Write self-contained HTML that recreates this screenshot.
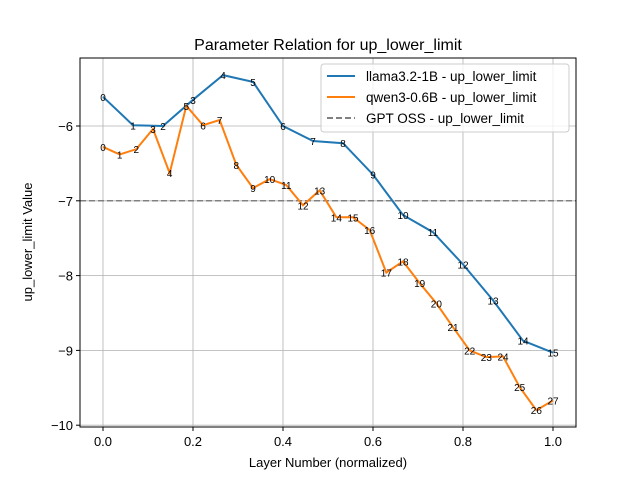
<!DOCTYPE html>
<html><head><meta charset="utf-8"><style>
body{margin:0;background:#fff}
svg{font-family:"Liberation Sans","DejaVu Sans",sans-serif}
</style></head><body>
<svg id="chart" width="640" height="480" xmlns="http://www.w3.org/2000/svg">
<rect width="640" height="480" fill="#fff"/>
<text x="328" y="50" text-anchor="middle" font-size="16">Parameter Relation for up_lower_limit</text>
<text x="328" y="467" text-anchor="middle" font-size="13">Layer Number (normalized)</text>
<text transform="translate(32,242) rotate(-90)" text-anchor="middle" font-size="13">up_lower_limit Value</text>
<g id="grid"></g><g id="series"></g>
<rect x="80" y="58" width="496" height="369" fill="none" stroke="#000" stroke-width="1"/>
<g id="ticks"></g>
<g>
<rect x="321" y="64" width="248" height="68" fill="#fff" fill-opacity="0.8" stroke="#ccc" rx="3"/>
<line x1="327" y1="76" x2="355" y2="76" stroke="#1f77b4" stroke-width="2"/>
<text x="366" y="81" font-size="13.5">llama3.2-1B - up_lower_limit</text>
<line x1="327" y1="97" x2="355" y2="97" stroke="#ff7f0e" stroke-width="2"/>
<text x="366" y="102" font-size="13.5">qwen3-0.6B - up_lower_limit</text>
<line x1="327" y1="118" x2="355" y2="118" stroke="#808080" stroke-width="2" stroke-dasharray="6,3"/>
<text x="366" y="123" font-size="13.5">GPT OSS - up_lower_limit</text>
</g>
</svg>
<script>
const llamaValues=[-5.61,-5.99,-6.0,-5.65,-5.32,-5.41,-6.0,-6.2,-6.23,-6.65,-7.19,-7.42,-7.85,-8.33,-8.87,-9.03];
const qwenValues=[-6.28,-6.38,-6.31,-6.04,-6.63,-5.73,-5.99,-5.92,-6.52,-6.83,-6.71,-6.79,-7.06,-6.86,-7.22,-7.22,-7.39,-7.96,-7.81,-8.1,-8.37,-8.69,-9.0,-9.09,-9.08,-9.49,-9.8,-9.67];
const gptValue=-7.0;
const xTicks=[0,0.2,0.4,0.6,0.8,1.0];
const xTickLabels=["0.0","0.2","0.4","0.6","0.8","1.0"];
const yTicks=[-6,-7,-8,-9,-10];
const yTickLabels=["−6","−7","−8","−9","−10"];
const NS="http://www.w3.org/2000/svg";
const xs=v=>103+v*450;
const ys=v=>126-(v+6)*74.8;
function mk(tag,attrs,parent,text){const e=document.createElementNS(NS,tag);for(const k in attrs)e.setAttribute(k,attrs[k]);if(text!==undefined)e.textContent=text;parent.appendChild(e);return e;}
const grid=document.getElementById('grid'),ticks=document.getElementById('ticks'),ser=document.getElementById('series');
xTicks.forEach((t,i)=>{
 const g=mk('line',{x1:xs(t),x2:xs(t),y1:58,y2:427,stroke:'#b0b0b0','stroke-width':0.8},grid);
 
 
 mk('line',{x1:xs(t),x2:xs(t),y1:427,y2:431,stroke:'#000'},ticks);
 const l=mk('text',{x:xs(t),y:446,'text-anchor':'middle','font-size':13},ticks,xTickLabels[i]);
 
 
});
yTicks.forEach((t,i)=>{
 const g=mk('line',{x1:80,x2:576,y1:ys(t),y2:ys(t),stroke:'#b0b0b0','stroke-width':0.8},grid);
 
 
 mk('line',{x1:76,x2:80,y1:ys(t),y2:ys(t),stroke:'#000'},ticks);
 const l=mk('text',{x:73,y:ys(t)+5,'text-anchor':'end','font-size':13},ticks,yTickLabels[i]);
 
 
});
const gl=mk('line',{x1:80,x2:576,y1:ys(gptValue),y2:ys(gptValue),stroke:'#808080','stroke-width':1.5,'stroke-dasharray':'6,3'},ser);


function drawSeries(vals,color,name){
 const n=vals.length-1;
 const pts=vals.map((v,i)=>xs(i/n)+','+ys(v)).join(' ');
 const p=mk('polyline',{points:pts,fill:'none',stroke:color,'stroke-width':2},ser);
 
 
 vals.forEach((v,i)=>{
  const t=mk('text',{x:xs(i/n),y:ys(v)+4,'text-anchor':'middle','font-size':10},ser,String(i));
  
  
 });
}
drawSeries(llamaValues,'#1f77b4','llama');
drawSeries(qwenValues,'#ff7f0e','qwen');
</script>
</body></html>
